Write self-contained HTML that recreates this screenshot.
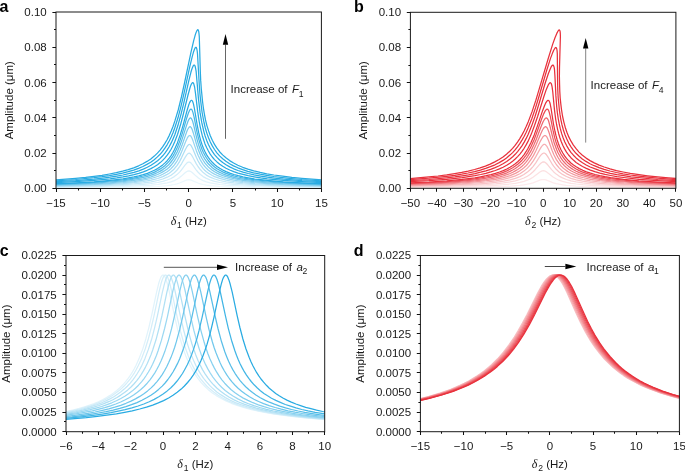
<!DOCTYPE html>
<html><head><meta charset="utf-8"><style>
html,body{margin:0;padding:0;background:#fff;}
body{width:685px;height:472px;overflow:hidden;}
svg{display:block;will-change:transform;}
.t{font-family:"Liberation Sans", sans-serif;font-size:11.5px;fill:#1a1a1a;}
.sub{font-size:8.6px;}
.it{font-style:italic;}
.dl{font-family:"Liberation Serif",serif;font-style:italic;font-size:12px;}
.pl{font-family:"Liberation Sans", sans-serif;font-weight:bold;font-size:16px;fill:#000;}
</style></head><body>
<svg width="685" height="472" viewBox="0 0 685 472">
<defs>
<clipPath id="ca"><rect x="56.00" y="12.00" width="265.40" height="176.50"/></clipPath>
<clipPath id="cb"><rect x="410.40" y="12.30" width="265.50" height="176.00"/></clipPath>
<clipPath id="cc"><rect x="66.00" y="255.50" width="258.70" height="176.20"/></clipPath>
<clipPath id="cd"><rect x="420.40" y="255.50" width="259.00" height="176.20"/></clipPath>
</defs>
<rect width="685" height="472" fill="#fff"/>
<g clip-path="url(#ca)" fill="none" stroke-width="1.25" stroke-linejoin="round">
<path d="M325.0,188.0 283.4,187.8 254.5,187.5 234.0,187.1 219.8,186.5 210.2,185.7 206.4,185.2 203.1,184.5 200.4,183.8 197.9,183.0 191.1,180.1 189.8,179.8 188.7,179.7 187.6,179.8 186.4,180.1 179.5,183.0 177.0,183.8 174.3,184.5 171.0,185.2 167.2,185.7 157.6,186.5 143.4,187.1 122.9,187.5 94.0,187.8 52.4,188.0" stroke="#eaf7fc"/>
<path d="M325.0,187.6 283.4,187.2 254.5,186.6 234.0,185.7 226.3,185.2 219.8,184.5 214.6,183.7 210.2,182.9 206.4,181.8 203.1,180.6 200.4,179.2 197.9,177.6 196.1,176.1 192.5,172.8 191.1,171.7 189.9,171.1 188.8,170.9 187.7,171.1 186.5,171.7 185.1,172.8 181.4,176.1 179.6,177.6 177.0,179.2 174.3,180.6 171.0,181.8 167.2,182.9 162.8,183.7 157.6,184.5 151.1,185.2 143.4,185.7 122.9,186.6 94.0,187.2 52.4,187.6" stroke="#e1f3fb"/>
<path d="M325.0,187.1 283.4,186.5 254.5,185.6 243.2,185.0 234.0,184.3 226.3,183.5 219.8,182.5 214.6,181.4 210.2,180.0 206.4,178.4 203.1,176.6 200.4,174.5 197.9,172.0 196.1,169.8 192.6,164.9 191.2,163.3 190.1,162.3 189.0,162.0 187.8,162.3 186.6,163.3 185.2,164.9 181.5,169.9 179.6,172.1 177.0,174.6 174.3,176.6 171.0,178.5 167.2,180.0 162.8,181.4 157.7,182.5 151.1,183.5 143.4,184.3 134.2,185.0 122.9,185.6 94.0,186.5 52.4,187.1" stroke="#d2edf9"/>
<path d="M325.0,186.6 283.4,185.8 267.3,185.3 254.5,184.6 243.2,183.8 234.0,182.9 226.3,181.8 219.8,180.5 214.7,179.0 210.2,177.2 206.4,175.1 203.2,172.6 200.5,169.8 198.0,166.5 196.2,163.6 192.7,157.0 191.4,154.9 190.2,153.6 189.7,153.3 189.2,153.2 188.6,153.3 188.0,153.6 186.8,154.9 185.3,157.1 181.5,163.8 179.6,166.7 177.1,170.0 174.3,172.7 171.0,175.2 167.2,177.2 162.8,179.0 157.7,180.5 151.1,181.8 143.4,182.9 134.2,183.8 122.9,184.6 110.1,185.3 94.0,185.8 52.4,186.6" stroke="#c0e6f6"/>
<path d="M325.0,186.2 301.8,185.7 283.4,185.1 267.3,184.4 254.0,183.6 242.9,182.6 233.8,181.5 226.2,180.1 219.7,178.4 214.6,176.6 212.3,175.5 210.2,174.3 208.2,173.1 206.4,171.7 204.7,170.2 203.2,168.6 200.5,165.1 198.1,161.0 196.3,157.3 192.9,149.1 191.6,146.4 190.5,144.9 189.9,144.5 189.4,144.4 188.8,144.5 188.3,144.9 187.0,146.5 185.5,149.3 181.6,157.6 179.7,161.3 177.1,165.3 174.4,168.7 172.8,170.3 171.0,171.8 169.2,173.2 167.2,174.4 162.8,176.6 157.7,178.5 151.1,180.1 143.4,181.5 134.2,182.7 122.9,183.7 110.1,184.4 94.0,185.1 75.6,185.7 52.4,186.2" stroke="#acdef4"/>
<path d="M325.0,185.7 301.8,185.1 283.4,184.5 267.3,183.6 254.0,182.7 242.9,181.5 233.8,180.1 226.2,178.4 222.8,177.5 219.7,176.4 217.0,175.3 214.5,174.1 212.3,172.9 210.2,171.5 208.2,170.0 206.4,168.3 204.8,166.5 203.2,164.6 200.6,160.4 198.2,155.4 196.4,150.9 193.1,141.1 191.9,138.0 190.8,136.1 190.3,135.7 189.7,135.6 189.1,135.7 188.5,136.2 187.2,138.2 185.7,141.6 181.7,151.6 179.8,155.9 177.2,160.8 174.4,164.8 172.7,166.8 171.0,168.6 169.2,170.2 167.2,171.7 165.0,173.0 162.7,174.3 160.2,175.5 157.6,176.5 154.4,177.5 151.0,178.5 143.2,180.2 133.9,181.6 122.9,182.7 110.1,183.6 94.0,184.5 75.6,185.1 52.4,185.7" stroke="#95d5f1"/>
<path d="M325.0,185.2 301.8,184.5 283.4,183.8 267.4,182.8 254.0,181.7 242.9,180.3 233.8,178.7 229.8,177.7 226.2,176.7 222.8,175.6 219.7,174.4 217.1,173.1 214.6,171.8 212.3,170.3 210.2,168.6 208.3,166.9 206.5,164.9 204.8,162.8 203.3,160.5 201.9,158.2 200.6,155.6 198.3,149.8 196.6,144.5 193.4,133.2 192.2,129.5 191.1,127.4 190.6,126.9 190.1,126.7 189.5,126.9 188.9,127.5 187.5,129.8 186.0,133.8 181.9,145.6 179.9,150.6 177.2,156.2 174.4,160.9 172.8,163.2 171.0,165.3 169.2,167.2 167.2,168.9 165.0,170.5 162.7,171.9 160.2,173.3 157.6,174.5 154.5,175.7 151.0,176.8 147.4,177.8 143.2,178.8 133.9,180.4 122.9,181.7 110.1,182.8 94.0,183.8 75.6,184.5 52.4,185.2" stroke="#7ccced"/>
<path d="M325.0,184.7 301.8,184.0 283.4,183.1 267.4,182.0 254.0,180.7 242.9,179.1 238.2,178.3 233.8,177.3 229.8,176.2 226.2,175.1 222.8,173.8 219.7,172.4 217.1,171.0 214.6,169.4 212.4,167.7 210.3,165.8 208.3,163.8 206.5,161.5 204.9,159.1 203.3,156.5 202.0,153.8 200.7,150.8 198.4,144.2 196.7,138.1 193.7,125.2 192.6,121.1 191.5,118.7 191.0,118.1 190.5,117.9 189.9,118.1 189.3,118.8 188.6,119.9 187.9,121.5 186.3,126.1 182.0,139.6 180.0,145.3 177.3,151.7 174.4,157.1 172.8,159.7 171.0,162.0 169.2,164.2 167.2,166.1 165.0,167.9 162.8,169.6 160.3,171.1 157.6,172.5 154.5,173.9 151.0,175.2 147.4,176.3 143.2,177.4 138.7,178.4 133.9,179.2 122.9,180.8 110.1,182.0 94.0,183.1 75.6,184.0 52.4,184.7" stroke="#62c1ea"/>
<path d="M325.0,184.3 301.8,183.4 283.4,182.4 267.4,181.2 254.0,179.7 248.1,178.9 242.9,178.0 238.2,177.0 233.8,175.9 229.8,174.7 226.1,173.3 222.7,171.9 219.7,170.3 217.0,168.7 214.6,166.9 212.3,165.0 210.2,162.9 208.3,160.5 206.5,158.0 204.9,155.3 203.3,152.3 202.0,149.3 200.8,145.9 198.5,138.4 196.9,131.6 194.1,117.1 193.0,112.6 192.0,109.9 191.5,109.3 191.0,109.1 190.4,109.3 189.7,110.1 189.1,111.4 188.3,113.2 186.8,117.7 182.5,132.6 180.1,140.1 177.4,147.2 174.5,153.2 172.9,156.1 171.1,158.7 169.2,161.1 167.2,163.3 165.1,165.4 162.8,167.2 160.3,168.9 157.6,170.5 154.5,172.1 151.0,173.5 147.4,174.8 143.2,176.0 138.7,177.1 133.9,178.1 123.0,179.8 110.1,181.2 94.0,182.4 75.6,183.4 52.4,184.3" stroke="#46b6e6"/>
<path d="M325.0,183.8 301.8,182.9 283.4,181.8 267.4,180.4 254.0,178.8 248.2,177.8 242.9,176.8 238.2,175.7 233.9,174.5 229.8,173.1 226.1,171.6 222.7,170.0 219.7,168.3 217.0,166.4 214.5,164.5 212.3,162.3 210.2,159.9 208.3,157.4 206.5,154.6 204.9,151.5 203.4,148.2 202.1,144.8 200.9,141.1 199.8,137.1 198.7,132.7 197.2,125.0 194.5,109.0 193.5,104.1 193.0,102.4 192.5,101.2 192.0,100.5 191.5,100.3 190.9,100.5 190.3,101.4 189.5,102.9 188.7,105.0 187.2,110.0 182.7,126.6 180.2,134.9 177.4,142.9 174.5,149.5 172.8,152.7 171.1,155.6 169.2,158.2 167.2,160.7 165.0,162.9 162.7,164.9 160.2,166.8 157.6,168.6 154.4,170.3 151.0,171.8 147.4,173.3 143.2,174.6 138.7,175.8 133.9,176.9 128.5,177.9 123.0,178.8 110.1,180.4 94.0,181.8 75.6,182.9 52.4,183.8" stroke="#29abe2"/>
<path d="M325.0,182.9 301.9,181.7 283.4,180.4 267.4,178.8 260.7,177.9 254.1,176.8 248.2,175.7 242.9,174.4 238.0,173.1 233.7,171.6 229.7,170.0 226.0,168.2 222.7,166.3 219.7,164.2 217.0,161.9 214.5,159.6 212.3,157.0 210.2,154.1 208.4,151.0 206.6,147.5 205.0,143.9 203.6,139.8 202.3,135.7 201.2,131.2 200.1,126.3 199.1,121.0 197.7,111.7 195.4,92.7 194.6,87.0 193.7,83.7 193.2,82.9 192.7,82.6 192.1,83.0 191.4,84.1 190.6,85.9 189.8,88.5 188.0,95.0 183.1,115.0 180.5,124.8 177.6,134.2 174.6,142.0 172.9,145.8 171.1,149.2 169.2,152.4 167.2,155.2 165.0,157.9 162.7,160.4 160.2,162.6 157.5,164.7 154.3,166.7 150.9,168.6 147.2,170.3 143.3,171.8 138.8,173.3 134.0,174.6 128.6,175.8 123.0,176.9 116.8,177.9 110.1,178.8 94.0,180.4 75.6,181.7 52.4,182.9" stroke="#29abe2"/>
<path d="M325.0,181.9 301.9,180.6 283.4,179.1 274.7,178.1 267.4,177.2 260.7,176.1 254.1,174.9 248.2,173.5 243.0,172.1 238.0,170.5 233.7,168.8 229.7,166.9 226.0,164.8 222.7,162.6 219.6,160.0 217.0,157.4 214.5,154.6 212.3,151.4 210.2,148.1 208.4,144.4 206.7,140.4 205.1,136.0 203.8,131.3 201.8,122.7 200.1,112.9 198.5,99.1 196.1,71.1 195.6,68.4 195.2,66.5 194.7,65.3 194.5,65.0 194.2,65.0 193.9,65.1 193.5,65.4 192.8,66.8 191.9,69.0 190.9,72.3 188.9,80.3 183.6,103.9 180.8,115.1 177.8,125.8 174.8,134.7 173.0,138.9 171.2,142.9 169.3,146.5 167.2,149.9 165.1,152.9 162.7,155.8 160.2,158.4 157.6,160.7 154.4,163.1 151.0,165.3 147.3,167.3 143.3,169.1 138.8,170.8 134.0,172.3 128.6,173.7 123.0,175.0 116.8,176.1 110.1,177.2 102.8,178.1 94.0,179.1 75.6,180.6 52.4,181.9" stroke="#29abe2"/>
<path d="M325.0,181.0 301.9,179.5 291.8,178.6 282.5,177.6 273.9,176.5 266.7,175.4 260.1,174.2 253.6,172.8 247.8,171.3 242.7,169.6 237.8,167.8 233.5,165.9 229.6,163.7 225.9,161.3 222.7,158.7 219.6,155.9 216.9,152.8 214.5,149.5 212.3,145.9 210.3,142.0 208.5,137.8 206.8,133.1 205.3,128.0 204.0,122.5 202.1,112.5 200.7,101.1 199.9,93.5 199.3,85.2 197.5,54.0 197.2,51.0 196.8,48.9 196.4,47.7 196.2,47.4 195.9,47.3 195.6,47.4 195.2,47.8 194.4,49.5 193.4,52.3 192.3,56.3 189.9,66.2 184.0,93.3 181.1,105.8 178.0,117.8 174.8,127.7 173.1,132.5 171.2,136.9 169.2,141.0 167.1,144.8 164.9,148.2 162.6,151.4 160.1,154.3 157.4,156.9 154.2,159.7 150.7,162.2 146.9,164.4 142.9,166.5 138.5,168.3 133.7,170.1 128.2,171.7 122.5,173.1 116.3,174.4 109.4,175.6 102.0,176.7 94.0,177.7 75.6,179.5 52.4,181.0" stroke="#29abe2"/>
<path d="M325.1,180.1 301.9,178.3 291.8,177.4 282.5,176.2 273.9,175.0 266.8,173.8 260.2,172.4 253.7,170.8 247.9,169.1 242.7,167.3 237.8,165.2 233.6,163.0 229.6,160.6 225.9,157.8 222.6,154.9 219.6,151.7 216.9,148.2 214.5,144.4 212.3,140.2 210.3,135.8 208.6,130.9 206.9,125.6 205.5,119.9 204.3,113.6 203.4,108.0 202.6,102.0 201.3,88.9 200.7,80.4 200.3,70.9 199.3,36.9 199.0,33.6 198.7,31.4 198.3,30.1 198.1,29.8 197.8,29.7 197.5,29.8 197.1,30.3 196.1,32.4 195.0,35.8 193.7,40.7 190.9,52.7 184.4,83.5 181.4,97.0 178.2,110.0 174.9,120.9 173.1,126.2 171.2,131.1 169.2,135.6 167.1,139.7 164.9,143.4 162.6,146.9 160.1,150.1 157.4,153.1 154.3,156.1 150.8,158.9 147.0,161.4 142.9,163.8 138.6,165.8 133.7,167.8 128.2,169.6 122.6,171.2 116.3,172.7 109.5,174.0 102.0,175.3 94.1,176.4 85.6,177.4 75.6,178.3 52.4,180.1" stroke="#29abe2"/>
</g>
<g clip-path="url(#cb)" fill="none" stroke-width="1.25" stroke-linejoin="round">
<path d="M679.7,187.8 639.7,187.6 611.0,187.2 590.8,186.8 576.2,186.2 566.4,185.4 562.5,184.8 559.0,184.2 556.1,183.6 553.4,182.8 545.9,179.9 544.5,179.6 543.2,179.5 541.9,179.6 540.5,179.9 533.0,182.8 530.2,183.6 527.3,184.2 523.8,184.8 519.9,185.4 510.1,186.2 495.5,186.8 475.3,187.2 446.6,187.6 406.6,187.8" stroke="#fdeaec"/>
<path d="M679.7,187.2 639.7,186.8 611.0,186.2 590.8,185.3 582.9,184.7 576.2,184.0 570.9,183.3 566.4,182.4 562.5,181.4 559.0,180.2 556.1,178.8 553.4,177.2 546.0,171.6 544.6,170.9 543.4,170.7 542.1,170.9 540.6,171.6 533.0,177.3 530.3,178.9 527.3,180.2 523.9,181.4 519.9,182.4 515.4,183.3 510.1,184.0 503.5,184.7 495.5,185.3 475.3,186.2 446.6,186.8 406.6,187.2" stroke="#fce2e3"/>
<path d="M679.7,186.7 639.7,186.1 624.1,185.6 611.0,185.1 599.9,184.5 590.8,183.8 582.9,182.9 576.2,181.9 571.0,180.8 566.4,179.5 562.5,177.9 559.0,176.1 556.2,174.1 553.5,171.7 551.6,169.6 547.7,164.8 546.2,163.2 544.9,162.2 543.6,161.9 542.3,162.2 540.8,163.2 539.2,164.9 535.1,169.7 533.1,171.8 530.3,174.2 527.4,176.2 523.9,178.0 519.9,179.5 515.3,180.8 510.1,181.9 503.5,182.9 495.5,183.8 486.4,184.5 475.3,185.1 462.2,185.6 446.6,186.1 406.6,186.7" stroke="#fad4d6"/>
<path d="M679.7,186.2 639.7,185.3 624.1,184.7 611.0,184.1 600.0,183.3 590.6,182.3 582.7,181.1 576.2,179.8 570.9,178.3 566.4,176.5 562.5,174.4 559.1,172.0 556.2,169.3 553.6,166.1 551.7,163.3 547.9,156.9 546.5,154.8 545.2,153.5 544.6,153.2 543.9,153.1 543.3,153.2 542.6,153.5 541.1,154.9 539.7,156.7 535.6,163.1 533.2,166.3 530.4,169.5 527.4,172.1 523.9,174.5 519.9,176.6 515.4,178.3 510.1,179.8 503.5,181.2 495.5,182.3 486.4,183.3 475.3,184.1 462.2,184.7 446.6,185.3 406.6,186.2" stroke="#f8c3c6"/>
<path d="M679.7,185.7 657.5,185.1 639.7,184.6 624.1,183.9 611.0,183.0 600.0,182.0 590.6,180.8 582.8,179.3 576.2,177.6 570.9,175.8 566.4,173.6 564.4,172.3 562.5,171.0 560.8,169.5 559.1,167.9 556.3,164.5 553.7,160.5 551.9,156.9 548.3,149.0 546.9,146.4 545.6,144.8 545.0,144.4 544.4,144.3 543.7,144.4 543.0,144.9 541.5,146.6 540.1,148.9 535.7,156.9 533.3,160.9 530.4,164.9 527.4,168.1 523.9,171.1 519.9,173.7 515.3,175.9 510.0,177.7 503.3,179.4 495.5,180.8 486.4,182.0 475.3,183.0 462.2,183.9 446.6,184.6 428.8,185.1 406.6,185.7" stroke="#f6afb3"/>
<path d="M679.7,185.1 657.5,184.5 639.7,183.8 624.1,183.0 611.0,181.9 600.0,180.7 590.6,179.3 582.8,177.5 579.4,176.6 576.2,175.5 573.5,174.4 571.0,173.3 568.6,172.0 566.4,170.6 564.4,169.0 562.5,167.4 560.8,165.7 559.2,163.7 556.4,159.6 553.9,154.8 552.1,150.5 548.7,141.0 547.4,138.0 546.8,136.9 546.1,136.1 545.6,135.7 544.9,135.5 544.3,135.7 543.6,136.2 542.8,137.0 542.0,138.3 540.4,141.1 535.9,150.7 533.4,155.6 530.5,160.2 527.5,164.2 525.8,166.0 523.9,167.8 522.0,169.3 519.9,170.8 517.7,172.1 515.4,173.4 510.1,175.6 506.8,176.7 503.4,177.6 495.6,179.3 486.4,180.7 475.3,181.9 462.2,183.0 446.6,183.8 428.8,184.5 406.6,185.1" stroke="#f4999e"/>
<path d="M679.7,184.6 657.5,183.9 638.9,183.0 623.5,182.0 610.6,180.8 599.7,179.4 590.4,177.7 586.3,176.7 582.6,175.7 579.3,174.6 576.1,173.3 573.4,172.0 570.9,170.7 568.6,169.2 566.4,167.5 564.4,165.7 562.6,163.8 560.8,161.8 559.3,159.5 557.9,157.2 556.6,154.8 554.1,149.1 552.4,144.0 549.2,133.0 547.9,129.5 547.3,128.3 546.8,127.4 546.2,126.9 545.6,126.7 544.9,126.9 544.2,127.5 543.4,128.5 542.5,130.0 540.9,133.4 536.2,144.6 533.6,150.3 530.6,155.7 527.6,160.2 525.8,162.4 524.0,164.4 522.0,166.2 519.9,167.9 517.7,169.5 515.3,170.9 512.8,172.3 510.1,173.5 506.8,174.7 503.4,175.8 499.6,176.9 495.6,177.8 486.4,179.5 475.3,180.9 462.2,182.1 446.6,183.1 428.8,183.9 406.6,184.6" stroke="#f18188"/>
<path d="M679.7,184.1 657.6,183.2 638.9,182.3 623.5,181.1 610.6,179.8 599.7,178.1 594.9,177.2 590.5,176.2 586.3,175.1 582.7,173.9 579.3,172.6 576.2,171.2 573.4,169.7 570.9,168.1 568.6,166.4 566.5,164.6 564.5,162.5 562.6,160.3 560.9,157.9 559.4,155.3 558.0,152.7 556.7,149.8 554.3,143.3 552.7,137.4 549.7,125.0 548.6,121.0 548.0,119.6 547.5,118.7 546.9,118.1 546.3,117.9 545.6,118.1 544.9,118.8 544.1,120.0 543.1,121.8 541.4,125.8 536.5,138.7 533.8,145.0 530.8,151.2 527.6,156.3 525.9,158.8 524.0,161.1 522.1,163.1 519.9,165.1 517.7,166.8 515.3,168.5 512.7,170.0 510.0,171.4 506.9,172.8 503.4,174.1 499.7,175.2 495.6,176.3 486.4,178.2 475.3,179.8 462.2,181.2 446.6,182.3 428.8,183.2 406.6,184.1" stroke="#ee6870"/>
<path d="M679.7,183.5 657.6,182.6 638.9,181.5 623.6,180.2 610.6,178.7 599.7,176.9 594.9,175.8 590.5,174.7 586.3,173.4 582.7,172.1 579.3,170.6 576.1,169.0 573.4,167.3 570.9,165.5 568.6,163.6 566.4,161.4 564.5,159.1 562.7,156.6 561.0,154.0 559.5,151.0 558.1,148.0 556.9,144.7 555.7,141.2 554.6,137.4 553.1,130.7 550.4,116.9 549.3,112.5 548.8,111.0 548.3,109.9 547.7,109.3 547.2,109.1 546.5,109.4 545.7,110.2 544.8,111.6 543.8,113.6 541.9,118.3 536.7,132.8 534.0,140.0 530.9,146.8 527.7,152.6 525.9,155.3 524.0,157.8 522.0,160.2 519.9,162.3 517.7,164.3 515.3,166.1 512.7,167.8 510.0,169.3 506.8,170.9 503.3,172.3 499.5,173.7 495.4,174.9 491.0,176.0 486.1,177.0 474.9,178.8 462.2,180.3 446.6,181.6 428.8,182.6 406.6,183.5" stroke="#eb4d57"/>
<path d="M679.7,183.0 657.6,182.0 638.9,180.8 623.6,179.3 610.7,177.6 605.1,176.7 599.7,175.6 595.0,174.5 590.5,173.2 586.4,171.8 582.8,170.3 579.3,168.6 576.2,166.8 573.5,165.0 570.9,163.0 568.7,160.8 566.5,158.4 564.6,155.9 562.8,153.0 561.1,150.0 559.6,146.7 558.3,143.3 557.1,139.7 556.0,135.7 555.0,131.5 553.5,124.0 551.1,108.7 550.2,104.0 549.7,102.3 549.2,101.2 548.7,100.5 548.1,100.3 547.4,100.6 546.6,101.6 545.6,103.2 544.6,105.5 542.5,110.9 537.0,127.1 534.2,134.9 531.0,142.5 527.8,148.7 526.0,151.7 524.1,154.6 522.1,157.1 520.0,159.5 517.7,161.7 515.3,163.7 512.8,165.5 510.0,167.2 506.8,169.0 503.3,170.6 499.5,172.0 495.4,173.4 491.1,174.6 486.2,175.7 480.6,176.8 474.9,177.8 462.2,179.4 446.6,180.8 428.8,182.0 406.6,183.0" stroke="#e8313c"/>
<path d="M679.7,181.9 657.6,180.7 638.9,179.3 623.6,177.5 616.8,176.6 610.7,175.5 605.1,174.4 599.8,173.1 594.8,171.6 590.4,170.1 586.3,168.4 582.5,166.5 579.2,164.5 576.1,162.4 573.4,160.1 570.9,157.7 568.6,155.0 566.5,152.1 564.6,148.9 562.9,145.5 561.3,141.8 559.9,137.8 558.7,133.7 557.6,129.3 556.6,124.5 555.7,119.3 554.5,110.1 552.8,92.2 552.1,86.8 551.7,85.0 551.3,83.7 550.8,83.0 550.3,82.7 549.9,82.8 549.5,83.1 548.6,84.3 547.6,86.4 546.3,89.4 543.9,96.5 537.7,116.2 534.6,125.3 531.3,134.1 528.0,141.4 526.1,144.9 524.1,148.3 522.0,151.3 519.9,154.1 517.6,156.6 515.2,159.0 512.6,161.2 509.9,163.2 506.7,165.3 503.1,167.2 499.4,168.9 495.3,170.5 490.8,171.9 485.9,173.3 480.7,174.5 474.9,175.7 468.6,176.7 462.2,177.6 446.6,179.3 428.8,180.7 406.6,181.9" stroke="#e8313c"/>
<path d="M679.7,180.9 657.6,179.5 638.9,177.7 631.0,176.8 623.6,175.7 616.9,174.6 610.3,173.3 604.4,171.9 599.2,170.3 594.6,168.7 590.2,167.0 586.2,165.0 582.5,162.8 579.2,160.5 576.1,157.9 573.4,155.2 570.9,152.3 568.7,149.1 566.6,145.6 564.8,141.9 563.1,137.8 561.6,133.4 560.3,128.7 559.2,123.8 558.2,118.5 557.4,112.9 556.7,106.8 555.9,95.9 554.9,75.5 554.5,69.6 554.2,67.6 553.8,66.2 553.4,65.4 552.9,65.1 552.5,65.2 552.0,65.6 551.0,67.2 549.8,69.9 548.3,73.7 545.3,82.8 538.3,106.0 535.1,116.3 531.6,126.1 528.1,134.4 526.2,138.4 524.2,142.1 522.1,145.6 519.9,148.7 517.6,151.6 515.2,154.3 512.7,156.8 510.0,159.1 506.7,161.5 503.0,163.8 499.3,165.7 495.1,167.6 490.6,169.3 485.9,170.8 480.7,172.2 475.0,173.6 468.6,174.8 462.3,175.8 454.8,176.9 446.6,177.8 428.8,179.5 406.6,180.9" stroke="#e8313c"/>
<path d="M679.7,179.8 657.6,178.2 647.4,177.2 639.0,176.2 630.3,175.0 623.0,173.8 616.4,172.5 609.9,171.0 604.1,169.4 599.0,167.7 594.2,165.7 589.9,163.7 586.0,161.4 582.3,159.0 579.1,156.3 576.0,153.3 573.3,150.2 571.0,146.8 568.7,143.1 566.8,139.1 565.0,134.7 563.4,130.0 562.0,124.9 560.8,119.3 560.0,114.4 559.3,109.3 558.2,98.0 557.8,90.5 557.6,82.4 557.3,53.6 557.1,50.9 556.8,49.0 556.4,47.9 556.1,47.6 555.9,47.5 555.4,47.7 554.9,48.2 553.7,50.2 552.3,53.6 550.5,58.4 546.8,70.0 538.9,96.8 535.5,107.9 531.8,118.7 528.2,127.7 526.2,132.2 524.2,136.3 522.0,140.1 519.8,143.6 517.5,146.8 515.1,149.9 512.6,152.6 509.9,155.1 506.5,157.9 503.0,160.4 499.2,162.6 495.0,164.8 490.4,166.7 485.7,168.4 480.4,170.1 474.6,171.6 468.1,173.0 461.7,174.2 454.8,175.3 446.7,176.3 428.8,178.2 406.6,179.8" stroke="#e8313c"/>
<path d="M679.8,178.8 668.4,177.9 657.6,176.9 647.5,175.8 639.0,174.7 630.3,173.4 623.1,172.0 616.4,170.6 610.0,168.9 604.2,167.0 599.1,165.1 594.2,162.9 590.0,160.6 586.1,158.1 582.4,155.2 579.0,152.1 576.1,148.7 573.4,145.1 571.0,141.2 568.8,136.9 566.9,132.2 565.2,127.2 563.8,121.8 562.5,116.0 561.5,109.6 560.8,103.9 560.2,98.0 559.8,91.6 559.6,84.9 559.4,76.5 559.5,67.4 560.4,36.3 560.3,33.4 560.1,31.4 559.7,30.3 559.5,30.0 559.2,29.9 558.8,30.1 558.2,30.8 556.8,33.4 555.0,37.7 552.8,43.9 548.3,58.3 539.3,88.6 535.8,100.4 532.0,111.9 528.4,121.4 526.3,126.3 524.2,130.7 522.0,134.9 519.8,138.6 517.5,142.1 515.1,145.4 512.6,148.4 509.8,151.2 506.5,154.2 503.0,157.0 499.1,159.5 494.8,161.9 490.2,164.1 485.4,166.1 480.1,167.9 474.6,169.5 468.2,171.1 461.7,172.4 454.8,173.6 446.7,174.9 438.0,176.0 428.8,176.9 418.0,177.9 406.7,178.8" stroke="#e8313c"/>
</g>
<g clip-path="url(#cc)" fill="none" stroke-width="1.25" stroke-linejoin="round">
<path d="M329.6,419.9 317.0,418.9 304.9,417.8 293.5,416.6 283.8,415.4 274.6,414.1 266.1,412.7 258.2,411.1 250.4,409.3 243.4,407.4 237.1,405.4 231.3,403.3 225.9,400.9 220.8,398.3 216.3,395.6 212.0,392.7 208.0,389.4 204.7,386.3 201.4,382.9 198.4,379.1 195.6,375.1 193.0,370.9 190.4,366.3 188.1,361.3 185.8,355.9 183.8,350.5 181.9,344.6 180.0,338.3 178.1,331.4 174.9,317.7 169.2,291.3 167.2,283.2 166.1,279.6 165.1,277.1 164.0,275.6 163.5,275.2 163.0,275.1 162.5,275.2 162.0,275.6 160.9,277.2 159.8,279.9 158.6,283.8 156.6,292.2 151.6,315.7 148.9,327.3 145.9,338.7 142.9,348.6 139.6,357.3 136.1,365.2 134.3,368.8 132.4,372.1 130.3,375.4 128.2,378.4 125.6,381.7 122.8,384.8 119.9,387.7 116.8,390.5 113.5,393.0 110.1,395.4 106.5,397.6 102.5,399.7 98.3,401.7 94.1,403.5 89.6,405.2 84.6,406.8 79.2,408.4 73.6,409.8 67.8,411.1 61.2,412.4" stroke="#e1f3fb"/>
<path d="M328.7,419.6 304.9,417.6 293.9,416.4 284.4,415.2 274.8,413.8 266.6,412.3 259.0,410.8 251.5,409.0 244.6,407.1 238.5,405.1 232.9,402.9 227.6,400.6 222.6,398.0 218.2,395.3 214.0,392.3 210.0,389.1 206.7,386.0 203.6,382.5 200.5,378.8 197.8,374.8 195.2,370.6 192.7,365.9 190.4,361.1 188.2,355.7 186.2,350.3 184.2,344.4 182.4,338.1 180.5,331.2 177.3,317.6 171.7,291.3 169.7,283.2 168.5,279.6 167.5,277.1 166.5,275.6 166.0,275.2 165.5,275.1 164.9,275.2 164.4,275.6 163.3,277.2 162.2,279.9 161.0,283.8 159.0,292.2 154.0,315.8 151.3,327.5 148.3,339.0 145.2,349.0 141.8,358.0 140.0,362.0 138.2,365.8 136.3,369.5 134.4,372.8 132.3,376.0 130.1,379.1 127.4,382.4 124.6,385.5 121.6,388.4 118.5,391.1 115.1,393.6 111.6,396.0 107.8,398.2 103.8,400.3 99.4,402.3 95.0,404.1 90.3,405.8 85.0,407.4 79.4,409.0 73.5,410.4 61.0,412.9" stroke="#d4eef9"/>
<path d="M328.9,419.4 305.9,417.4 295.3,416.2 285.3,414.8 276.0,413.4 268.1,412.0 260.8,410.4 253.5,408.6 246.9,406.7 240.9,404.7 235.4,402.6 230.3,400.2 225.4,397.6 221.0,394.9 216.8,391.9 212.9,388.6 209.6,385.4 206.5,381.9 203.6,378.3 200.9,374.4 198.3,370.1 195.9,365.5 193.6,360.6 191.4,355.3 189.4,349.9 187.5,344.1 185.7,337.8 183.9,331.0 180.7,317.6 175.1,291.4 173.1,283.2 171.9,279.6 170.9,277.1 169.9,275.6 169.4,275.2 168.9,275.1 168.3,275.2 167.8,275.6 166.8,277.2 165.6,279.8 164.5,283.7 162.4,292.1 157.4,315.8 154.6,327.8 151.6,339.3 148.4,349.4 145.0,358.4 143.2,362.5 141.4,366.4 139.4,370.0 137.3,373.5 135.2,376.7 132.9,379.8 130.2,383.1 127.3,386.2 124.2,389.1 121.0,391.8 117.5,394.3 113.9,396.7 109.9,398.9 105.9,400.9 101.7,402.8 97.1,404.6 92.3,406.2 86.8,407.9 80.9,409.5 74.8,410.9 61.6,413.4" stroke="#c3e7f7"/>
<path d="M328.8,419.0 316.5,418.0 306.0,416.9 296.0,415.7 287.3,414.5 278.5,413.0 270.8,411.6 263.2,409.9 256.3,408.1 249.9,406.2 244.1,404.2 238.6,402.0 233.6,399.6 228.9,397.0 224.7,394.3 220.6,391.3 216.8,388.0 213.6,384.8 210.5,381.4 207.7,377.7 205.1,373.8 202.5,369.6 200.2,365.1 197.9,360.2 195.8,354.9 193.8,349.5 191.9,343.7 190.1,337.6 188.3,330.8 185.2,317.4 179.6,291.4 177.6,283.3 176.5,279.6 175.4,277.1 174.4,275.6 173.9,275.2 173.4,275.1 172.9,275.2 172.3,275.6 171.3,277.2 170.2,279.8 169.0,283.7 166.9,292.1 161.9,316.0 159.1,328.0 156.0,339.8 152.7,350.0 151.0,354.7 149.2,359.1 147.4,363.2 145.5,367.1 143.4,370.9 141.3,374.4 139.1,377.6 136.8,380.7 133.9,384.0 131.0,387.0 127.8,389.9 124.5,392.6 120.8,395.1 117.0,397.5 112.9,399.7 108.7,401.7 103.8,403.7 99.0,405.5 93.8,407.2 88.3,408.7 82.5,410.2 75.9,411.6 68.9,412.9 61.7,414.1" stroke="#b0e0f4"/>
<path d="M328.7,418.6 317.3,417.5 307.5,416.4 298.0,415.2 289.1,413.9 280.8,412.4 273.6,411.0 266.4,409.3 259.8,407.5 253.8,405.6 247.9,403.5 242.7,401.3 237.9,398.9 233.4,396.3 229.2,393.5 225.2,390.5 221.6,387.2 218.6,384.1 215.6,380.7 212.9,377.1 210.3,373.1 207.8,368.9 205.5,364.4 203.3,359.6 201.2,354.4 199.3,349.1 197.5,343.3 195.7,337.2 193.9,330.5 190.8,317.2 185.3,291.5 183.3,283.4 182.1,279.7 181.1,277.1 180.0,275.6 179.5,275.2 179.0,275.1 178.5,275.2 178.0,275.6 176.9,277.1 175.9,279.8 174.7,283.6 172.6,292.0 167.5,316.3 164.6,328.5 161.4,340.4 158.1,350.7 156.4,355.5 154.5,360.1 152.6,364.3 150.6,368.2 148.4,372.0 146.2,375.5 143.9,378.8 141.5,381.8 138.5,385.2 135.4,388.2 132.1,391.1 128.5,393.7 124.8,396.2 120.8,398.5 116.4,400.8 111.8,402.8 107.0,404.7 101.7,406.5 96.1,408.1 90.1,409.7 83.8,411.1 76.6,412.6 61.7,415.0" stroke="#9bd8f2"/>
<path d="M329.1,418.0 309.5,415.8 300.0,414.5 291.8,413.2 284.0,411.7 276.9,410.2 270.2,408.5 264.0,406.7 258.4,404.8 252.9,402.7 247.9,400.4 243.3,398.1 239.0,395.5 235.0,392.7 231.2,389.7 227.6,386.3 224.7,383.2 221.9,379.8 219.2,376.2 216.7,372.2 214.4,368.1 212.1,363.6 210.0,358.9 207.9,353.7 206.1,348.5 204.3,342.8 200.8,330.1 197.7,317.1 192.3,291.6 190.3,283.4 189.1,279.7 188.0,277.1 187.0,275.6 186.5,275.2 186.0,275.1 185.5,275.2 184.9,275.6 183.9,277.1 182.8,279.8 181.6,283.6 179.6,291.9 174.4,316.5 171.5,328.9 168.2,341.1 164.8,351.6 162.9,356.5 161.0,361.1 159.0,365.3 156.9,369.3 154.7,373.1 152.3,376.7 149.8,380.1 147.2,383.2 144.1,386.5 140.8,389.5 137.4,392.3 133.6,395.0 129.6,397.5 125.3,399.8 120.7,402.0 115.8,404.0 110.5,405.9 104.8,407.7 99.0,409.2 92.4,410.8 85.5,412.2 78.1,413.5 70.4,414.7 61.5,415.9" stroke="#86d0ef"/>
<path d="M329.2,417.1 319.8,416.0 310.8,414.8 302.3,413.5 294.9,412.2 287.9,410.8 281.3,409.2 275.2,407.5 269.1,405.6 263.6,403.6 258.6,401.5 253.9,399.3 249.5,396.8 245.4,394.1 241.6,391.3 238.1,388.3 234.8,385.0 232.0,381.9 229.3,378.5 226.8,374.9 224.4,371.0 222.1,366.9 220.0,362.6 218.0,357.8 216.0,352.8 214.2,347.7 212.4,342.0 209.0,329.6 206.1,316.8 200.7,291.7 198.7,283.5 197.5,279.7 196.4,277.1 195.4,275.6 194.9,275.2 194.4,275.1 193.9,275.2 193.4,275.6 192.3,277.1 191.2,279.8 190.1,283.5 188.0,291.8 182.7,316.7 179.7,329.5 176.3,341.9 174.6,347.5 172.8,352.6 170.9,357.6 168.8,362.3 166.7,366.7 164.5,370.8 162.2,374.6 159.7,378.2 157.0,381.6 154.3,384.7 151.1,387.9 147.6,390.9 143.9,393.7 139.8,396.4 135.5,398.9 131.0,401.1 126.0,403.3 120.7,405.3 114.8,407.2 108.8,408.9 102.5,410.4 95.1,412.0 87.9,413.3 79.6,414.6 70.8,415.8 61.8,416.9" stroke="#70c7ec"/>
<path d="M329.1,416.0 320.0,414.8 312.2,413.6 304.7,412.3 298.2,411.0 291.5,409.5 285.6,407.9 279.8,406.1 274.4,404.2 269.4,402.2 264.8,400.1 260.3,397.7 256.3,395.3 252.5,392.6 249.0,389.8 245.7,386.8 242.5,383.4 239.9,380.3 237.4,376.9 235.0,373.3 232.8,369.6 230.6,365.5 228.6,361.3 226.7,356.7 224.8,351.8 221.4,341.3 218.1,329.0 215.2,316.5 209.9,291.8 207.9,283.6 206.8,279.8 205.7,277.1 204.6,275.6 204.1,275.2 203.6,275.1 203.1,275.2 202.6,275.6 201.5,277.1 200.5,279.7 199.3,283.4 197.3,291.6 191.9,317.1 188.8,330.0 185.4,342.6 183.6,348.3 181.7,353.5 179.7,358.7 177.6,363.4 175.3,367.9 173.0,372.0 170.5,375.9 167.9,379.5 165.1,383.0 162.2,386.1 158.6,389.4 154.9,392.5 150.9,395.3 146.6,397.8 141.9,400.3 137.0,402.6 131.5,404.7 125.9,406.6 119.8,408.4 113.2,410.1 106.1,411.6 98.5,413.0 90.4,414.4 81.9,415.6 72.0,416.8 61.7,417.8" stroke="#59bee8"/>
<path d="M329.6,414.7 315.1,412.3 308.0,410.9 301.8,409.5 296.0,407.9 290.5,406.2 285.3,404.5 280.3,402.4 275.8,400.4 271.5,398.2 267.6,395.8 263.9,393.4 260.4,390.7 257.1,387.8 254.1,384.8 251.2,381.5 248.8,378.4 246.5,375.1 244.3,371.7 242.2,367.9 240.2,364.0 238.3,359.8 236.5,355.3 234.8,350.5 231.5,340.2 228.3,328.3 225.5,316.2 220.3,292.0 218.3,283.7 217.1,279.8 216.0,277.2 215.0,275.6 214.4,275.2 213.9,275.1 213.4,275.2 212.9,275.6 211.9,277.1 210.8,279.7 209.7,283.3 207.7,291.5 202.1,317.3 199.0,330.7 197.2,337.5 195.4,343.6 193.5,349.4 191.6,354.7 189.5,359.9 187.3,364.7 184.9,369.2 182.5,373.5 179.8,377.4 177.1,381.0 174.1,384.5 170.9,387.7 167.2,390.9 163.1,394.0 158.8,396.8 154.2,399.4 149.2,401.7 143.8,404.0 138.1,406.0 131.9,407.9 125.1,409.7 118.2,411.2 110.9,412.7 102.3,414.1 93.2,415.4 83.4,416.6 73.3,417.7 61.4,418.8" stroke="#41b5e5"/>
<path d="M329.5,412.8 322.6,411.5 316.6,410.2 310.9,408.7 305.7,407.3 300.5,405.6 295.9,404.0 291.3,402.1 286.9,400.1 282.9,398.0 279.2,395.7 275.7,393.4 272.4,390.8 269.3,388.2 266.4,385.3 263.6,382.2 261.0,379.0 258.8,375.9 256.7,372.7 254.8,369.3 252.9,365.7 251.1,361.9 249.3,357.8 246.0,349.0 242.9,339.0 239.9,327.5 237.2,315.8 232.2,292.2 230.1,283.8 228.9,279.9 227.8,277.2 226.8,275.6 226.2,275.2 225.7,275.1 225.2,275.2 224.7,275.6 223.7,277.1 222.6,279.6 221.5,283.2 219.5,291.3 213.9,317.6 210.7,331.2 208.8,338.1 207.0,344.4 205.0,350.3 203.0,355.7 200.8,361.1 198.5,365.9 196.0,370.6 193.4,374.8 190.6,378.8 187.6,382.5 184.4,386.0 181.2,389.1 177.2,392.3 173.0,395.3 168.6,398.0 163.6,400.6 158.3,402.9 152.7,405.1 146.5,407.1 139.7,409.0 132.2,410.8 124.6,412.3 116.4,413.8 106.7,415.2 97.3,416.4 86.3,417.6 62.5,419.6" stroke="#29abe2"/>
</g>
<g clip-path="url(#cd)" fill="none" stroke-width="1.25" stroke-linejoin="round">
<path d="M684.0,399.5 671.8,396.4 660.5,393.0 650.2,389.2 645.3,387.2 640.6,385.1 636.1,382.8 631.7,380.5 627.6,378.1 623.7,375.6 620.0,372.9 616.3,370.1 612.9,367.2 609.5,364.1 604.4,359.0 599.6,353.4 595.0,347.4 590.6,340.9 585.6,332.5 580.7,323.0 576.1,313.2 566.9,292.5 564.6,287.8 562.6,284.0 560.0,280.0 558.8,278.5 557.6,277.3 556.4,276.3 555.2,275.6 554.1,275.2 552.9,275.1 551.9,275.2 550.8,275.5 549.7,276.1 548.6,276.9 546.3,279.1 543.8,282.4 541.1,286.7 538.0,292.4 527.1,314.2 522.4,323.1 518.3,330.4 514.3,337.0 508.9,344.9 503.4,352.2 497.6,358.8 491.5,364.8 488.0,367.7 484.4,370.7 480.6,373.5 476.8,376.1 472.7,378.6 468.7,381.0 464.2,383.3 459.8,385.4 455.3,387.4 450.3,389.5 439.8,393.2 428.3,396.6 415.8,399.7" stroke="#f8c1c4"/>
<path d="M683.9,399.3 671.8,396.2 660.7,392.8 650.5,389.0 645.6,387.0 641.0,384.9 636.5,382.6 632.2,380.3 628.1,377.9 624.3,375.3 620.6,372.7 616.9,369.9 613.5,367.0 610.1,363.9 607.2,361.0 604.2,357.8 598.7,351.2 593.4,343.9 588.4,335.9 584.7,329.2 580.9,321.8 576.8,312.9 567.3,291.6 564.6,286.1 562.2,282.0 560.0,278.9 557.9,276.8 556.8,276.0 555.8,275.5 554.8,275.2 553.8,275.1 552.7,275.2 551.7,275.5 550.6,276.1 549.5,276.9 547.2,279.1 544.7,282.3 542.0,286.6 538.9,292.3 527.9,314.3 523.2,323.2 519.1,330.5 515.1,337.2 509.7,345.1 504.1,352.4 498.2,359.0 492.1,365.0 488.6,368.0 485.0,370.9 481.2,373.7 477.3,376.3 473.2,378.9 468.9,381.3 464.4,383.6 460.0,385.8 455.3,387.8 450.3,389.8 439.6,393.6 428.3,396.9 415.7,400.0" stroke="#f6b1b5"/>
<path d="M684.3,399.2 672.3,396.1 661.2,392.6 651.0,388.9 646.2,386.9 641.6,384.7 637.1,382.5 632.9,380.2 628.8,377.7 625.0,375.2 621.3,372.6 617.7,369.8 614.2,366.9 610.9,363.8 607.9,360.9 605.0,357.7 599.5,351.1 594.2,343.8 589.3,335.8 585.5,329.1 581.8,321.7 577.6,312.8 568.2,291.6 565.5,286.2 563.1,282.0 560.9,278.9 558.8,276.8 557.7,276.0 556.7,275.5 555.7,275.2 554.6,275.1 553.4,275.2 552.2,275.7 551.0,276.4 549.7,277.4 548.4,278.7 547.1,280.3 544.2,284.4 541.9,288.4 539.2,293.3 528.6,314.6 523.4,324.5 518.0,333.9 512.6,342.2 507.9,348.7 503.0,354.7 498.0,360.1 492.7,365.2 489.3,368.2 485.6,371.1 481.7,373.9 477.8,376.5 473.7,379.1 469.4,381.5 464.8,383.9 460.3,386.0 455.7,388.0 450.6,390.0 445.2,392.0 439.7,393.8 428.3,397.1 415.5,400.2" stroke="#f5a1a6"/>
<path d="M684.2,398.9 672.4,395.8 661.4,392.4 651.4,388.7 646.6,386.7 642.0,384.5 637.6,382.3 633.4,380.0 629.3,377.5 625.5,375.0 621.9,372.4 618.3,369.6 614.9,366.7 611.5,363.6 605.7,357.5 600.2,350.9 595.0,343.7 590.1,335.7 586.3,329.0 582.6,321.7 578.5,312.8 569.0,291.6 566.3,286.2 563.9,282.0 561.7,278.9 559.6,276.8 558.6,276.0 557.6,275.5 556.5,275.2 555.5,275.1 554.3,275.2 553.1,275.7 551.8,276.4 550.6,277.4 549.3,278.7 547.9,280.3 545.1,284.4 542.7,288.4 540.1,293.3 529.4,314.6 524.3,324.5 518.9,333.9 513.5,342.2 508.8,348.7 503.9,354.7 498.8,360.1 493.5,365.3 490.0,368.3 486.3,371.2 482.4,374.0 478.5,376.6 474.4,379.2 470.0,381.6 465.5,384.0 461.0,386.1 456.3,388.1 451.1,390.2 445.8,392.1 440.2,393.9 428.7,397.2 415.9,400.3" stroke="#f39197"/>
<path d="M684.1,398.7 672.4,395.6 661.6,392.2 651.7,388.5 646.9,386.4 642.4,384.3 638.2,382.2 634.0,379.8 630.0,377.4 626.2,374.9 622.6,372.3 619.0,369.5 615.6,366.6 612.3,363.5 606.5,357.4 601.0,350.8 595.8,343.6 590.9,335.6 587.2,328.9 583.4,321.6 579.3,312.8 569.9,291.6 567.2,286.2 564.8,282.1 562.6,279.0 560.5,276.8 559.4,276.0 558.4,275.5 557.4,275.2 556.3,275.1 555.2,275.2 553.9,275.7 552.7,276.4 551.4,277.4 550.1,278.7 548.8,280.3 545.9,284.4 543.6,288.4 540.9,293.3 530.3,314.6 525.1,324.5 519.7,334.0 514.2,342.3 509.5,348.9 504.6,354.9 499.5,360.3 494.1,365.5 490.6,368.5 486.9,371.4 483.0,374.2 479.0,376.9 474.9,379.4 470.5,381.8 465.9,384.2 461.3,386.3 456.6,388.3 451.4,390.4 446.0,392.3 440.4,394.1 428.7,397.4 415.7,400.5" stroke="#f18188"/>
<path d="M684.0,398.5 672.5,395.4 661.8,392.0 652.0,388.2 647.3,386.2 642.8,384.1 638.5,381.8 634.5,379.6 630.6,377.2 626.8,374.7 623.2,372.1 619.6,369.2 616.2,366.4 612.9,363.3 607.1,357.2 601.8,350.7 596.6,343.5 591.7,335.5 588.0,328.9 584.3,321.6 580.2,312.8 570.7,291.6 568.1,286.2 565.7,282.1 563.5,279.0 561.3,276.8 560.3,276.0 559.3,275.5 558.2,275.2 557.2,275.1 556.0,275.2 554.8,275.7 553.5,276.4 552.3,277.4 551.0,278.7 549.6,280.3 546.8,284.5 544.4,288.4 541.8,293.3 531.2,314.6 526.0,324.5 520.5,334.0 515.1,342.3 510.3,348.9 505.4,355.0 500.2,360.5 494.7,365.7 491.2,368.7 487.5,371.6 483.5,374.5 479.5,377.1 475.3,379.6 470.9,382.1 466.3,384.4 461.7,386.5 456.9,388.6 451.6,390.6 446.2,392.5 440.5,394.4 428.7,397.7 415.5,400.8" stroke="#ef7179"/>
<path d="M684.0,398.2 672.2,395.0 661.7,391.6 652.0,387.9 647.4,385.9 643.0,383.7 638.7,381.5 634.8,379.3 630.9,376.9 627.2,374.3 623.6,371.7 620.1,368.9 616.7,366.0 613.6,363.1 607.8,357.0 602.5,350.5 597.4,343.3 592.4,335.3 588.8,328.7 585.1,321.5 581.0,312.7 571.6,291.7 568.9,286.2 566.6,282.1 564.3,279.0 562.2,276.8 561.2,276.0 560.1,275.5 559.1,275.2 558.0,275.1 556.9,275.2 555.6,275.7 554.4,276.4 553.2,277.4 551.8,278.7 550.5,280.3 547.6,284.5 545.3,288.4 542.7,293.3 532.0,314.6 526.9,324.5 521.4,334.0 515.9,342.4 511.1,349.0 506.1,355.1 500.9,360.6 495.4,365.8 491.9,368.8 488.2,371.7 484.2,374.6 480.2,377.2 476.0,379.7 471.6,382.2 466.9,384.5 462.3,386.7 457.5,388.7 452.2,390.7 446.7,392.6 441.0,394.5 429.1,397.8 415.8,400.9" stroke="#ed616a"/>
<path d="M684.4,398.1 672.7,394.9 662.2,391.5 652.6,387.8 648.0,385.8 643.6,383.6 639.4,381.4 635.5,379.2 631.6,376.8 627.9,374.2 624.3,371.6 620.8,368.8 617.5,365.9 614.3,363.0 608.6,356.9 603.3,350.4 598.2,343.2 593.3,335.3 589.7,328.7 586.0,321.5 581.9,312.7 572.5,291.7 569.8,286.2 567.4,282.1 565.2,279.0 563.1,276.8 562.0,276.0 561.0,275.5 559.9,275.2 558.9,275.1 557.7,275.2 556.5,275.7 555.3,276.4 554.0,277.4 552.7,278.7 551.4,280.3 548.5,284.4 546.2,288.4 543.5,293.3 532.9,314.6 527.7,324.5 522.2,334.0 516.7,342.5 511.8,349.2 506.8,355.3 501.6,360.9 496.1,366.0 492.5,369.0 488.8,372.0 484.8,374.8 480.7,377.4 476.5,380.0 472.0,382.4 467.3,384.7 462.6,386.9 457.8,388.9 452.4,390.9 446.9,392.9 441.1,394.7 429.1,398.0 415.5,401.1" stroke="#ec515a"/>
<path d="M684.3,397.9 672.8,394.7 662.5,391.3 653.0,387.6 648.4,385.5 644.0,383.4 639.8,381.2 636.0,379.0 632.1,376.5 628.4,374.0 624.9,371.4 621.4,368.6 618.1,365.7 615.0,362.7 609.3,356.7 604.0,350.2 598.9,343.0 594.1,335.1 590.5,328.6 586.8,321.4 582.7,312.7 573.4,291.7 570.7,286.3 568.3,282.2 566.1,279.0 564.0,276.8 562.9,276.0 561.9,275.5 560.8,275.2 559.8,275.1 558.6,275.2 557.4,275.7 556.1,276.4 554.9,277.4 553.6,278.7 552.2,280.3 549.4,284.4 547.0,288.4 544.4,293.3 533.7,314.6 528.5,324.5 523.1,334.0 517.6,342.5 512.7,349.2 507.7,355.3 502.3,361.0 496.8,366.1 493.3,369.1 489.5,372.1 485.5,374.9 481.4,377.5 477.2,380.1 472.7,382.5 467.9,384.9 463.2,387.0 458.4,389.0 453.0,391.1 447.4,393.0 441.6,394.8 429.5,398.1 415.8,401.2" stroke="#ea414b"/>
<path d="M684.3,397.7 672.9,394.5 662.7,391.1 653.3,387.3 648.8,385.3 644.5,383.2 640.3,381.0 636.5,378.7 632.6,376.3 629.0,373.8 625.5,371.2 622.0,368.4 618.7,365.5 615.6,362.5 610.0,356.5 604.7,350.0 599.7,342.9 594.9,335.1 591.3,328.5 587.6,321.3 583.6,312.6 574.3,291.7 571.6,286.3 569.2,282.2 567.0,279.0 564.8,276.8 563.8,276.0 562.7,275.5 561.7,275.2 560.6,275.1 559.4,275.2 558.2,275.7 557.0,276.4 555.7,277.4 554.4,278.7 553.1,280.3 550.2,284.5 547.9,288.4 545.2,293.3 534.6,314.7 529.4,324.6 523.9,334.1 518.4,342.6 513.5,349.3 508.4,355.5 503.0,361.2 497.4,366.4 493.8,369.4 490.1,372.3 486.0,375.1 481.9,377.7 477.6,380.3 473.1,382.7 468.3,385.1 463.6,387.2 458.6,389.2 453.2,391.3 447.6,393.2 441.7,395.0 429.4,398.4 415.6,401.5" stroke="#e8313c"/>
</g>
<rect x="56.00" y="12.00" width="265.40" height="176.50" fill="none" stroke="#1a1a1a" stroke-width="1"/>
<path d="M56.50,188.50V191.90M100.50,188.50V191.90M144.50,188.50V191.90M188.50,188.50V191.90M232.50,188.50V191.90M277.50,188.50V191.90M321.50,188.50V191.90M78.50,188.50V190.50M122.50,188.50V190.50M166.50,188.50V190.50M210.50,188.50V190.50M255.50,188.50V190.50M299.50,188.50V190.50M56.00,188.50H52.40M56.00,153.50H52.40M56.00,117.50H52.40M56.00,82.50H52.40M56.00,47.50H52.40M56.00,12.50H52.40M56.00,170.50H54.00M56.00,135.50H54.00M56.00,100.50H54.00M56.00,64.50H54.00M56.00,29.50H54.00" stroke="#111" stroke-width="1.05" fill="none"/>
<text x="56.00" y="206.70" text-anchor="middle" class="t">−15</text>
<text x="100.23" y="206.70" text-anchor="middle" class="t">−10</text>
<text x="144.47" y="206.70" text-anchor="middle" class="t">−5</text>
<text x="188.70" y="206.70" text-anchor="middle" class="t">0</text>
<text x="232.93" y="206.70" text-anchor="middle" class="t">5</text>
<text x="277.17" y="206.70" text-anchor="middle" class="t">10</text>
<text x="321.40" y="206.70" text-anchor="middle" class="t">15</text>
<text x="46.70" y="192.40" text-anchor="end" class="t">0.00</text>
<text x="46.70" y="157.10" text-anchor="end" class="t">0.02</text>
<text x="46.70" y="121.80" text-anchor="end" class="t">0.04</text>
<text x="46.70" y="86.50" text-anchor="end" class="t">0.06</text>
<text x="46.70" y="51.20" text-anchor="end" class="t">0.08</text>
<text x="46.70" y="15.90" text-anchor="end" class="t">0.10</text>
<rect x="410.40" y="12.30" width="265.50" height="176.00" fill="none" stroke="#1a1a1a" stroke-width="1"/>
<path d="M410.50,188.30V191.70M436.50,188.30V191.70M463.50,188.30V191.70M490.50,188.30V191.70M516.50,188.30V191.70M543.50,188.30V191.70M569.50,188.30V191.70M596.50,188.30V191.70M622.50,188.30V191.70M649.50,188.30V191.70M675.50,188.30V191.70M423.50,188.30V190.30M450.50,188.30V190.30M476.50,188.30V190.30M503.50,188.30V190.30M529.50,188.30V190.30M556.50,188.30V190.30M582.50,188.30V190.30M609.50,188.30V190.30M636.50,188.30V190.30M662.50,188.30V190.30M410.40,188.50H406.80M410.40,153.50H406.80M410.40,117.50H406.80M410.40,82.50H406.80M410.40,47.50H406.80M410.40,12.50H406.80M410.40,170.50H408.40M410.40,135.50H408.40M410.40,100.50H408.40M410.40,65.50H408.40M410.40,29.50H408.40" stroke="#111" stroke-width="1.05" fill="none"/>
<text x="410.40" y="206.50" text-anchor="middle" class="t">−50</text>
<text x="436.95" y="206.50" text-anchor="middle" class="t">−40</text>
<text x="463.50" y="206.50" text-anchor="middle" class="t">−30</text>
<text x="490.05" y="206.50" text-anchor="middle" class="t">−20</text>
<text x="516.60" y="206.50" text-anchor="middle" class="t">−10</text>
<text x="543.15" y="206.50" text-anchor="middle" class="t">0</text>
<text x="569.70" y="206.50" text-anchor="middle" class="t">10</text>
<text x="596.25" y="206.50" text-anchor="middle" class="t">20</text>
<text x="622.80" y="206.50" text-anchor="middle" class="t">30</text>
<text x="649.35" y="206.50" text-anchor="middle" class="t">40</text>
<text x="675.90" y="206.50" text-anchor="middle" class="t">50</text>
<text x="401.10" y="192.20" text-anchor="end" class="t">0.00</text>
<text x="401.10" y="157.00" text-anchor="end" class="t">0.02</text>
<text x="401.10" y="121.80" text-anchor="end" class="t">0.04</text>
<text x="401.10" y="86.60" text-anchor="end" class="t">0.06</text>
<text x="401.10" y="51.40" text-anchor="end" class="t">0.08</text>
<text x="401.10" y="16.20" text-anchor="end" class="t">0.10</text>
<rect x="66.00" y="255.50" width="258.70" height="176.20" fill="none" stroke="#1a1a1a" stroke-width="1"/>
<path d="M66.50,431.70V435.10M98.50,431.70V435.10M130.50,431.70V435.10M163.50,431.70V435.10M195.50,431.70V435.10M227.50,431.70V435.10M260.50,431.70V435.10M292.50,431.70V435.10M324.50,431.70V435.10M82.50,431.70V433.70M114.50,431.70V433.70M146.50,431.70V433.70M179.50,431.70V433.70M211.50,431.70V433.70M243.50,431.70V433.70M276.50,431.70V433.70M308.50,431.70V433.70M66.00,431.50H62.40M66.00,412.50H62.40M66.00,392.50H62.40M66.00,372.50H62.40M66.00,353.50H62.40M66.00,333.50H62.40M66.00,314.50H62.40M66.00,294.50H62.40M66.00,275.50H62.40M66.00,255.50H62.40M66.00,421.50H64.00M66.00,402.50H64.00M66.00,382.50H64.00M66.00,363.50H64.00M66.00,343.50H64.00M66.00,324.50H64.00M66.00,304.50H64.00M66.00,284.50H64.00M66.00,265.50H64.00" stroke="#111" stroke-width="1.05" fill="none"/>
<text x="66.00" y="449.90" text-anchor="middle" class="t">−6</text>
<text x="98.34" y="449.90" text-anchor="middle" class="t">−4</text>
<text x="130.68" y="449.90" text-anchor="middle" class="t">−2</text>
<text x="163.01" y="449.90" text-anchor="middle" class="t">0</text>
<text x="195.35" y="449.90" text-anchor="middle" class="t">2</text>
<text x="227.69" y="449.90" text-anchor="middle" class="t">4</text>
<text x="260.02" y="449.90" text-anchor="middle" class="t">6</text>
<text x="292.36" y="449.90" text-anchor="middle" class="t">8</text>
<text x="324.70" y="449.90" text-anchor="middle" class="t">10</text>
<text x="56.70" y="435.60" text-anchor="end" class="t">0.0000</text>
<text x="56.70" y="416.02" text-anchor="end" class="t">0.0025</text>
<text x="56.70" y="396.44" text-anchor="end" class="t">0.0050</text>
<text x="56.70" y="376.87" text-anchor="end" class="t">0.0075</text>
<text x="56.70" y="357.29" text-anchor="end" class="t">0.0100</text>
<text x="56.70" y="337.71" text-anchor="end" class="t">0.0125</text>
<text x="56.70" y="318.13" text-anchor="end" class="t">0.0150</text>
<text x="56.70" y="298.56" text-anchor="end" class="t">0.0175</text>
<text x="56.70" y="278.98" text-anchor="end" class="t">0.0200</text>
<text x="56.70" y="259.40" text-anchor="end" class="t">0.0225</text>
<rect x="420.40" y="255.50" width="259.00" height="176.20" fill="none" stroke="#1a1a1a" stroke-width="1"/>
<path d="M420.50,431.70V435.10M463.50,431.70V435.10M506.50,431.70V435.10M549.50,431.70V435.10M593.50,431.70V435.10M636.50,431.70V435.10M679.50,431.70V435.10M441.50,431.70V433.70M485.50,431.70V433.70M528.50,431.70V433.70M571.50,431.70V433.70M614.50,431.70V433.70M657.50,431.70V433.70M420.40,431.50H416.80M420.40,412.50H416.80M420.40,392.50H416.80M420.40,372.50H416.80M420.40,353.50H416.80M420.40,333.50H416.80M420.40,314.50H416.80M420.40,294.50H416.80M420.40,275.50H416.80M420.40,255.50H416.80M420.40,421.50H418.40M420.40,402.50H418.40M420.40,382.50H418.40M420.40,363.50H418.40M420.40,343.50H418.40M420.40,324.50H418.40M420.40,304.50H418.40M420.40,284.50H418.40M420.40,265.50H418.40" stroke="#111" stroke-width="1.05" fill="none"/>
<text x="420.40" y="449.90" text-anchor="middle" class="t">−15</text>
<text x="463.57" y="449.90" text-anchor="middle" class="t">−10</text>
<text x="506.73" y="449.90" text-anchor="middle" class="t">−5</text>
<text x="549.90" y="449.90" text-anchor="middle" class="t">0</text>
<text x="593.07" y="449.90" text-anchor="middle" class="t">5</text>
<text x="636.23" y="449.90" text-anchor="middle" class="t">10</text>
<text x="679.40" y="449.90" text-anchor="middle" class="t">15</text>
<text x="411.10" y="435.60" text-anchor="end" class="t">0.0000</text>
<text x="411.10" y="416.02" text-anchor="end" class="t">0.0025</text>
<text x="411.10" y="396.44" text-anchor="end" class="t">0.0050</text>
<text x="411.10" y="376.87" text-anchor="end" class="t">0.0075</text>
<text x="411.10" y="357.29" text-anchor="end" class="t">0.0100</text>
<text x="411.10" y="337.71" text-anchor="end" class="t">0.0125</text>
<text x="411.10" y="318.13" text-anchor="end" class="t">0.0150</text>
<text x="411.10" y="298.56" text-anchor="end" class="t">0.0175</text>
<text x="411.10" y="278.98" text-anchor="end" class="t">0.0200</text>
<text x="411.10" y="259.40" text-anchor="end" class="t">0.0225</text>
<text transform="translate(12.60,100.25) rotate(-90)" text-anchor="middle" class="t">Amplitude (μm)</text>
<text transform="translate(367.00,100.30) rotate(-90)" text-anchor="middle" class="t">Amplitude (μm)</text>
<text transform="translate(9.80,343.60) rotate(-90)" text-anchor="middle" class="t">Amplitude (μm)</text>
<text transform="translate(364.20,343.60) rotate(-90)" text-anchor="middle" class="t">Amplitude (μm)</text>
<text x="188.70" y="224.80" text-anchor="middle" class="t"><tspan class="dl">δ</tspan><tspan class="sub" dx="0.8" dy="3">1</tspan><tspan dy="-3"> (Hz)</tspan></text>
<text x="543.15" y="224.90" text-anchor="middle" class="t"><tspan class="dl">δ</tspan><tspan class="sub" dx="0.8" dy="3">2</tspan><tspan dy="-3"> (Hz)</tspan></text>
<text x="195.35" y="468.10" text-anchor="middle" class="t"><tspan class="dl">δ</tspan><tspan class="sub" dx="0.8" dy="3">1</tspan><tspan dy="-3"> (Hz)</tspan></text>
<text x="549.90" y="468.10" text-anchor="middle" class="t"><tspan class="dl">δ</tspan><tspan class="sub" dx="0.8" dy="3">2</tspan><tspan dy="-3"> (Hz)</tspan></text>
<text x="-0.5" y="11.8" class="pl">a</text>
<text x="354.0" y="11.8" class="pl">b</text>
<text x="-0.3" y="255.6" class="pl">c</text>
<text x="353.7" y="255.6" class="pl">d</text>
<line x1="225.5" y1="44.7" x2="225.5" y2="138.8" stroke="#555" stroke-width="0.9"/>
<path d="M225.5,33.9 L228.2,44.7 L222.8,44.7 Z" fill="#000"/>
<line x1="585.7" y1="48.4" x2="585.7" y2="142.6" stroke="#777" stroke-width="0.9"/>
<path d="M585.7,37.9 L588.4000000000001,48.4 L583.0,48.4 Z" fill="#000"/>
<line x1="163.8" y1="267.3" x2="217.0" y2="267.3" stroke="#444" stroke-width="0.9"/>
<path d="M228.0,267.3 L217.0,264.6 L217.0,270.0 Z" fill="#000"/>
<line x1="544.8" y1="266.5" x2="565.4" y2="266.5" stroke="#333" stroke-width="0.9"/>
<path d="M576.3,266.5 L565.4,263.8 L565.4,269.2 Z" fill="#000"/>
<text x="230.6" y="93.2" class="t">Increase of <tspan class="it" dx="1.4">F</tspan><tspan class="sub" dx="-0.4" dy="3.3">1</tspan></text>
<text x="590.6" y="89.2" class="t">Increase of <tspan class="it" dx="1.4">F</tspan><tspan class="sub" dx="-0.4" dy="3.3">4</tspan></text>
<text x="235.1" y="271.0" class="t">Increase of <tspan class="it" dx="1.4">a</tspan><tspan class="sub" dx="-0.4" dy="3.3">2</tspan></text>
<text x="586.6" y="271.0" class="t">Increase of <tspan class="it" dx="1.4">a</tspan><tspan class="sub" dx="-0.4" dy="3.3">1</tspan></text>
</svg>
</body></html>
